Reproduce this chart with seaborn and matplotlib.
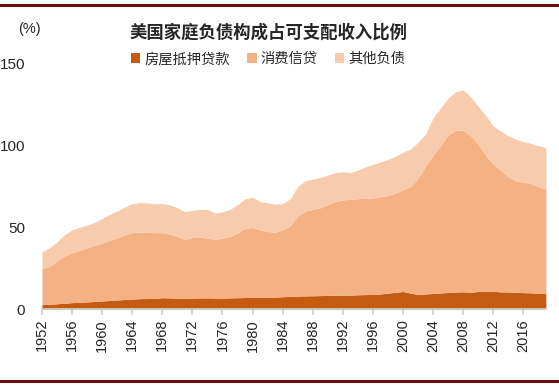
import numpy as np
import matplotlib
matplotlib.use("Agg")
import matplotlib.pyplot as plt
from matplotlib.lines import Line2D
import seaborn as sbn

# 数据 (占可支配收入 %, 年度, 从图中读取)
years = list(range(1952, 2020))
mortgage = [2.8, 3.0, 3.3, 3.6, 4.0, 4.2, 4.4, 4.7, 5.0, 5.3,
            5.6, 5.9, 6.2, 6.4, 6.5, 6.6, 7.0, 6.9, 6.8, 6.7,
            6.8, 6.9, 6.9, 6.8, 6.8, 6.9, 7.0, 7.1, 7.2, 7.3,
            7.3, 7.4, 7.6, 7.8, 8.0, 8.1, 8.2, 8.3, 8.4, 8.5,
            8.6, 8.6, 8.8, 8.9, 9.0, 9.3, 9.8, 10.3, 10.8, 9.8,
            9.0, 9.3, 9.6, 9.9, 10.2, 10.5, 10.6, 10.4, 10.8, 11.0,
            10.9, 10.6, 10.5, 10.3, 10.1, 10.0, 9.7, 9.5]
consumer = [22.2, 23.0, 26.2, 28.9, 30.5, 31.8, 33.1, 34.3, 35.5, 36.7,
            37.9, 39.6, 40.6, 40.6, 40.5, 40.2, 39.8, 39.1, 37.7, 35.8,
            37.0, 37.1, 36.6, 35.7, 36.7, 37.6, 39.5, 42.4, 42.8, 41.2,
            40.2, 39.6, 40.9, 43.2, 49.0, 51.9, 52.8, 53.7, 55.6, 57.5,
            58.2, 58.6, 58.8, 58.9, 59.0, 59.5, 59.7, 60.7, 62.2, 65.2,
            71.0, 78.2, 84.4, 90.1, 96.3, 99.0, 98.9, 95.6, 90.2, 83.0,
            77.9, 74.4, 70.5, 68.2, 67.7, 66.8, 65.3, 64.0]
other = [10.0, 11.5, 11.5, 13.0, 14.0, 14.0, 14.0, 14.0, 15.0, 16.0,
         16.5, 17.0, 17.7, 18.3, 18.0, 17.7, 17.7, 17.8, 17.5, 17.0,
         16.7, 17.0, 17.5, 16.3, 16.0, 16.5, 17.5, 18.0, 18.5, 17.3,
         17.5, 17.2, 16.0, 16.5, 18.0, 18.5, 18.5, 18.5, 18.0, 17.5,
         17.2, 16.3, 17.4, 19.2, 20.5, 21.2, 22.0, 22.5, 23.0, 23.0,
         22.0, 19.5, 23.0, 23.0, 22.5, 23.5, 24.5, 24.0, 23.0, 24.5,
         23.2, 24.0, 25.0, 25.5, 24.7, 24.7, 25.0, 25.3]
labels = ["房屋抵押贷款", "消费信贷", "其他负债"]
tick_years = list(range(1952, 2020, 4))

sbn.set_theme(style="white")
plt.rcParams['font.family'] = ['Liberation Sans', 'Noto Sans CJK SC', 'DejaVu Sans']

colors = ["#C55A11", "#F4B183", "#F8CBAD"]

fig = plt.figure(figsize=(5.59, 3.85), dpi=100)
ax = fig.add_axes([0.075, 0.197, 0.9015, 0.637])
ax.stackplot(years, mortgage, consumer, other, colors=colors, labels=labels, linewidth=0)

ax.set_xlim(1952, 2019)
ax.set_ylim(0, 150)
ax.set_yticks([0, 50, 100, 150])
ax.set_xticks(tick_years)
ax.set_xticklabels([str(y) for y in tick_years], rotation=90, fontsize=10.5)
ax.tick_params(axis='y', labelsize=11, length=0, pad=12)
ax.tick_params(axis='x', bottom=True, length=4, color="#d0d0d0", pad=3)
for s in ['top', 'right', 'left']:
    ax.spines[s].set_visible(False)
ax.spines['bottom'].set_color("#d0d0d0")
ax.grid(False)

fig.text(0.032, 0.925, "(%)", fontsize=10.5, ha='left', va='center')
fig.text(0.48, 0.917, "美国家庭负债构成占可支配收入比例", fontsize=12.5, fontweight='bold',
         ha='center', va='center')
handles, lbls = ax.get_legend_handles_labels()
fig.legend(handles, lbls, loc='center', bbox_to_anchor=(0.48, 0.846), ncol=3,
           frameon=False, fontsize=10.3, handlelength=0.65, handleheight=0.65,
           handletextpad=0.3, columnspacing=1.2)

# 上下的深红色分隔线
fig.add_artist(Line2D([0, 1], [0.988, 0.988], color="#6E0B0B", linewidth=2.2))
fig.add_artist(Line2D([0, 1], [0.01, 0.01], color="#6E0B0B", linewidth=2.2))

plt.savefig("out.png", dpi=100)
